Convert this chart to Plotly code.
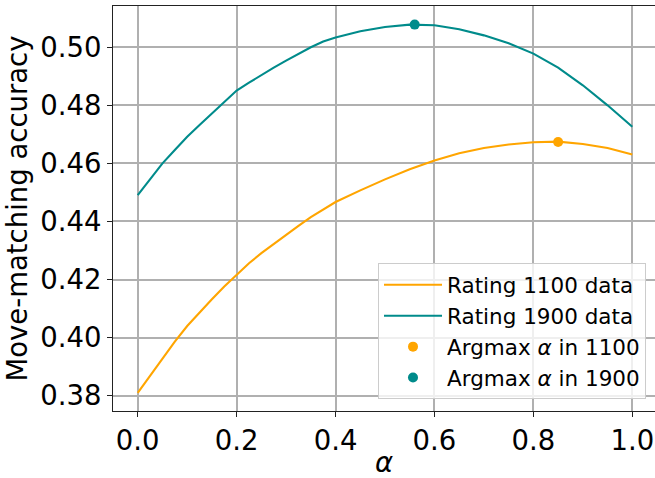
import plotly.graph_objects as go

alpha = [0.000, 0.025, 0.050, 0.075, 0.100, 0.125, 0.150, 0.175, 0.200, 0.225, 0.250,
         0.275, 0.300, 0.325, 0.350, 0.375, 0.40, 0.45, 0.50, 0.55, 0.60, 0.65, 0.70,
         0.75, 0.80, 0.85, 0.90, 0.95, 1.00]
acc_1100 = [0.3810, 0.3869, 0.3925, 0.3986, 0.4040, 0.4087, 0.4132, 0.4176, 0.4216, 0.4256, 0.4291,
            0.4323, 0.4354, 0.4385, 0.4415, 0.4442, 0.4467, 0.4507, 0.4545, 0.4580, 0.4610, 0.4635,
            0.4653, 0.4665, 0.4673, 0.4675, 0.4667, 0.4653, 0.4631]
acc_1900 = [0.4491, 0.4545, 0.4600, 0.4646, 0.4692, 0.4732, 0.4772, 0.4813, 0.4851, 0.4878, 0.4905,
            0.4930, 0.4954, 0.4977, 0.5000, 0.5020, 0.5034, 0.5055, 0.5070, 0.5078, 0.5076, 0.5062,
            0.5041, 0.5014, 0.4978, 0.4930, 0.4869, 0.4800, 0.4726]
argmax_1100 = (0.85, 0.4674)
argmax_1900 = (0.56, 0.5078)

x_ticks = [0.0, 0.2, 0.4, 0.6, 0.8, 1.0]
y_ticks = [0.38, 0.40, 0.42, 0.44, 0.46, 0.48, 0.50]

ORANGE = "#FFA500"
TEAL = "#008B8B"
FONT = "DejaVu Sans"

fig = go.Figure()
fig.add_trace(go.Scatter(x=alpha, y=acc_1100, mode="lines", name="Rating 1100 data",
                         line=dict(color=ORANGE, width=2.1)))
fig.add_trace(go.Scatter(x=alpha, y=acc_1900, mode="lines", name="Rating 1900 data",
                         line=dict(color=TEAL, width=2.1)))
fig.add_trace(go.Scatter(x=[argmax_1100[0]], y=[argmax_1100[1]], mode="markers",
                         name="Argmax <i>α</i> in 1100",
                         marker=dict(color=ORANGE, size=10)))
fig.add_trace(go.Scatter(x=[argmax_1900[0]], y=[argmax_1900[1]], mode="markers",
                         name="Argmax <i>α</i> in 1900",
                         marker=dict(color=TEAL, size=10)))

axis_common = dict(
    showgrid=True, gridcolor="#b0b0b0", gridwidth=1.5,
    showline=True, linecolor="#222222", linewidth=1.1,
    ticks="outside", ticklen=5, tickwidth=1.1, tickcolor="#222222",
    tickfont=dict(family=FONT, size=27.5, color="black"),
    zeroline=False, automargin=False,
)

fig.update_xaxes(range=[-0.05, 1.0459], tickvals=x_ticks,
                 ticktext=[f"{v:.1f}" for v in x_ticks], mirror=True,
                 title=dict(text="<i>α</i>", font=dict(family=FONT, size=27.5, color="black"),
                            standoff=12),
                 **axis_common)
fig.update_yaxes(range=[0.37473, 0.51421], tickvals=y_ticks,
                 ticktext=[f"{v:.2f}" for v in y_ticks],
                 title=dict(text="Move-matching accuracy",
                            font=dict(family=FONT, size=27.5, color="black"), standoff=4),
                 **axis_common)

fig.update_layout(
    width=655, height=478,
    margin=dict(l=112.5, r=0, t=5.7, b=67),
    paper_bgcolor="white", plot_bgcolor="white",
    font=dict(family=FONT, color="black"),
    legend=dict(x=0.9834, y=0.029, xanchor="right", yanchor="bottom",
                itemwidth=58,
                bgcolor="rgba(255,255,255,0.8)", bordercolor="#cccccc", borderwidth=1,
                font=dict(family=FONT, size=21.5, color="black")),
    showlegend=True,
)

fig.write_html("out.html")
